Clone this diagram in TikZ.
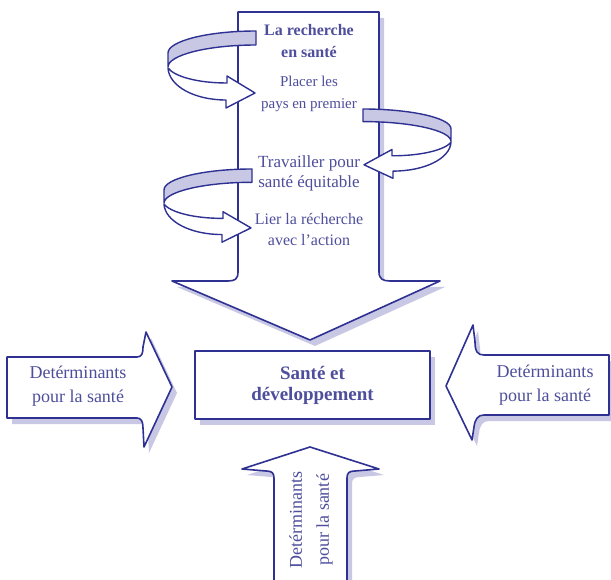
\documentclass[tikz,border=0pt]{standalone}
\usepackage{fontspec}
\setmainfont{Liberation Serif}
\usetikzlibrary{shadows}
\definecolor{bordure}{RGB}{46,49,146}
\definecolor{texte}{RGB}{78,78,156}
\definecolor{ombre}{RGB}{200,200,228}
\tikzset{
  trait/.style={draw=bordure, line width=1.6pt, line join=round, fill=white},
  ombree/.style={drop shadow={shadow xshift=5pt, shadow yshift=-6pt, fill=ombre, opacity=1}},
  ruban/.style={draw=bordure, line width=1.4pt, line join=round},
  etiquette/.style={text=texte, align=center, font=\fontsize{16}{21}\selectfont},
  cote/.style={text=texte, align=center, font=\fontsize{18}{24}\selectfont}
}
% boucle : x, y du bout du ruban, sens, hauteur
\newcommand{\boucle}[4]{%
  \begin{scope}[shift={(#1,#2)}, xscale=#3, yscale=#4]
  \draw [ruban, fill=ombre] (0,0) -- (0,14) .. controls (-48,14) and (-88,24) .. (-88,36)
    -- (-88,22) .. controls (-88,10) and (-48,0) .. (0,0) -- cycle;
  \draw [ruban, fill=white] (-88,37) .. controls (-87,55) and (-62,69) .. (-30,69)
    -- (-30,77) -- (-1,62) -- (-29,45) -- (-29,52) .. controls (-60,52) and (-82,45) .. (-88,37) -- cycle;
  \end{scope}}
\begin{document}
\begin{tikzpicture}[x=1pt, y=-1pt]
\useasboundingbox (0,0) rectangle (611,580);
% grande fleche
\draw [trait, ombree] (238,12) -- (379,12) -- (379,272) .. controls (379,279) and (383,281) .. (390,281)
  -- (440,281) -- (310,340) -- (172,281) -- (228,281) .. controls (235,281) and (238,279) .. (238,272) -- cycle;
\boucle{256}{31}{1}{1}
\boucle{363}{109}{-1}{0.9}
\boucle{252}{169}{1}{0.95}
\node [etiquette, font=\fontsize{16}{22}\selectfont\bfseries] (recherche) at (309,41) {La recherche\\en santé};
\node [etiquette, font=\fontsize{15}{22}\selectfont] (placer) at (309,94) {Placer les\\pays en premier};
\node [etiquette, font=\fontsize{17}{20}\selectfont] (travailler) at (309,173) {Travailler pour\\santé équitable};
\node [etiquette] (lier) at (309,230) {Lier la récherche\\avec l'action};
% centre
\node [trait, ombree, minimum width=235pt, minimum height=68pt, text=texte, align=center,
  font=\fontsize{19}{21}\selectfont\bfseries] (sante) at (312.5,385) {Santé et\\développement};
% fleches des determinants
\draw [trait, ombree] (7,357) -- (137,357) .. controls (142,357) and (143,353) .. (143,347) -- (146,332)
  -- (172,387) -- (144,447) -- (143,428) .. controls (143,421) and (141,418) .. (137,418) -- (7,418) -- cycle;
\node [cote] (gauche) at (78,386) {Detérminants\\pour la santé};
\draw [trait, ombree] (609,355) -- (484,355) .. controls (478,355) and (475,352) .. (475,342) -- (473,325)
  -- (446,386) -- (472,440) -- (474,427) .. controls (475,419) and (478,415) .. (484,415) -- (609,415) -- cycle;
\node [cote] (droite) at (545,385) {Detérminants\\pour la santé};
\draw [trait, ombree] (274,595) -- (274,478) .. controls (274,473) and (272,471) .. (266,471) -- (242,469)
  -- (310,447) -- (379,469) -- (355,471) .. controls (349,471) and (347,473) .. (347,478) -- (347,595) -- cycle;
\node [cote, rotate=90, font=\fontsize{18}{27}\selectfont] (bas) at (311,520) {Detérminants\\pour la santé};
\end{tikzpicture}
\end{document}
